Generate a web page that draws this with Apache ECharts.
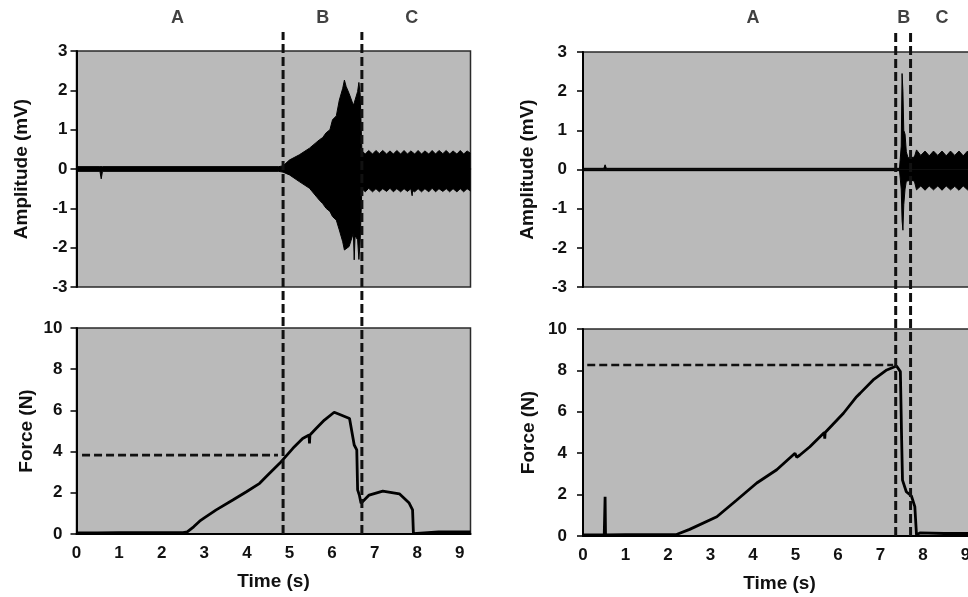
<!DOCTYPE html>
<html>
<head>
<meta charset="utf-8">
<script src="https://cdn.jsdelivr.net/npm/echarts/dist/echarts.min.js"></script>
<style>
html,body{margin:0;padding:0;background:#fff;}
#chart{width:968px;height:597px;}
</style>
</head>
<body>
<div id="chart"></div>
<script>
// ---------------- DATA ----------------
var ampTicks = [-3, -2, -1, 0, 1, 2, 3];
var forceTicks = [0, 2, 4, 6, 8, 10];
var timeTicks = [0, 1, 2, 3, 4, 5, 6, 7, 8, 9];
var regionNames = ['A', 'B', 'C'];

// Left panel: EMG amplitude envelope (mV)
var ampTimeL = [0, 0.55, 0.58, 0.61, 4.75, 4.85, 5.0, 5.23, 5.47, 5.70, 5.78, 5.86, 5.95, 6.01, 6.10, 6.17, 6.25, 6.29, 6.33, 6.40, 6.50, 6.52, 6.54, 6.60, 6.63, 6.66,
  6.70, 6.78, 6.86, 6.95, 7.03, 7.11, 7.19, 7.28, 7.36, 7.44, 7.52, 7.61, 7.69, 7.77, 7.85, 7.87, 7.88, 7.89, 7.94,
  8.02, 8.10, 8.18, 8.27, 8.35, 8.43, 8.51, 8.60, 8.68, 8.76, 8.84, 8.93, 9.01, 9.09, 9.17, 9.25];
var ampUpperL = [0.06, 0.06, 0.06, 0.06, 0.06, 0.08, 0.23, 0.36, 0.53, 0.74, 0.80, 0.92, 1.00, 1.25, 1.35, 1.75, 2.05, 2.26, 2.10, 1.92, 1.62, 1.68, 1.70, 1.97, 2.20, 1.90,
  0.46, 0.38, 0.47, 0.38, 0.47, 0.39, 0.47, 0.38, 0.46, 0.38, 0.47, 0.38, 0.47, 0.38, 0.46, 0.43, 0.41, 0.40, 0.38,
  0.47, 0.38, 0.46, 0.38, 0.47, 0.38, 0.47, 0.39, 0.47, 0.38, 0.46, 0.38, 0.47, 0.38, 0.46, 0.40];
var ampLowerL = [-0.06, -0.06, -0.25, -0.06, -0.06, -0.08, -0.15, -0.32, -0.49, -0.79, -0.88, -1.00, -1.08, -1.21, -1.30, -1.55, -1.85, -2.06, -2.02, -1.97, -1.63, -2.31, -1.70, -1.80, -2.30, -1.80,
  -0.50, -0.58, -0.49, -0.58, -0.50, -0.58, -0.50, -0.57, -0.49, -0.58, -0.50, -0.58, -0.50, -0.57, -0.50, -0.54, -0.68, -0.55, -0.58,
  -0.50, -0.58, -0.50, -0.58, -0.49, -0.58, -0.50, -0.57, -0.50, -0.58, -0.50, -0.58, -0.50, -0.58, -0.50, -0.56];

// Left panel: force (N)
var forceTimeL = [0, 0.5, 1, 1.5, 2, 2.5, 2.6, 2.75, 2.89, 3.0, 3.28, 3.67, 3.99, 4.30, 4.45, 4.77, 5.08, 5.31, 5.46, 5.47, 5.48, 5.63, 5.82, 6.05, 6.21, 6.41,
  6.52, 6.58, 6.60, 6.64, 6.68, 6.87, 7.19, 7.58, 7.81, 7.89, 7.91, 7.95, 8.5, 9.25];
var forceL = [0.05, 0.05, 0.06, 0.06, 0.06, 0.07, 0.10, 0.35, 0.62, 0.78, 1.17, 1.65, 2.05, 2.46, 2.78, 3.43, 4.16, 4.64, 4.81, 4.40, 4.81, 5.13, 5.53, 5.91, 5.78, 5.61,
  4.32, 4.08, 2.14, 1.89, 1.49, 1.89, 2.08, 1.95, 1.50, 1.17, 0.02, 0.10, 0.10, 0.10];

// Right panel: EMG amplitude envelope (mV)
var ampTimeR = [0, 0.49, 0.52, 0.55, 7.45, 7.49, 7.51, 7.53, 7.55, 7.58, 7.61, 7.65, 7.72, 7.80,
  7.85, 7.95, 8.05, 8.15, 8.25, 8.35, 8.45, 8.55, 8.65, 8.75, 8.85, 8.95, 9.05, 9.15, 9.25];
var ampUpperR = [0.03, 0.03, 0.12, 0.03, 0.03, 0.60, 2.45, 2.00, 1.00, 0.90, 0.45, 0.30, 0.30, 0.32,
  0.50, 0.36, 0.47, 0.35, 0.47, 0.36, 0.47, 0.35, 0.47, 0.36, 0.47, 0.35, 0.47, 0.36, 0.46];
var ampLowerR = [-0.03, -0.03, -0.03, -0.03, -0.03, -0.50, -1.30, -1.55, -0.90, -0.50, -0.30, -0.28, -0.27, -0.30,
  -0.52, -0.42, -0.53, -0.42, -0.52, -0.42, -0.53, -0.42, -0.52, -0.43, -0.53, -0.42, -0.52, -0.42, -0.52];

// Right panel: force (N)
var forceTimeR = [0, 0.5, 0.51, 0.52, 0.53, 1, 1.5, 2, 2.2, 2.51, 3.15, 3.62, 4.09, 4.56, 4.99, 5.03, 5.10, 5.34, 5.68, 5.69, 5.70,
  6.13, 6.44, 6.52, 6.83, 7.15, 7.38, 7.47, 7.50, 7.52, 7.61, 7.73, 7.81, 7.85, 7.93, 8.5, 9.25];
var forceR = [0.05, 0.05, 0.05, 1.90, 0.05, 0.06, 0.06, 0.06, 0.07, 0.32, 0.93, 1.74, 2.56, 3.20, 4.00, 3.80, 3.90, 4.31, 5.00, 4.70, 5.00,
  5.93, 6.73, 6.89, 7.54, 8.02, 8.21, 7.94, 4.64, 2.70, 2.14, 1.93, 1.42, 0.05, 0.15, 0.12, 0.12];

// Phase boundaries and reference levels
var boundsL = [4.85, 6.70];
var boundsR = [7.36, 7.71];
var labelXL = [2.37, 5.78, 7.87];
var labelXR = [4.00, 7.55, 8.45];
var refLineL = { x: [0.13, 4.73], force: 3.83 };
var refLineR = { x: [0.10, 7.30], force: 8.26 };

// ---------------- BUILD ----------------
function zip(a, b) { return a.map(function (v, i) { return [v, b[i]]; }); }

var FONT = '"Liberation Sans", Arial, Helvetica, sans-serif';
var TXT = '#111';
var BG = '#bababa';
var tMax = 9.25;

var panels = [
  { left: 76.5, width: 394, ampTop: 51, ampH: 236, fTop: 328, fH: 206, ovTop: 32, ovH: 502,
    ampT: ampTimeL, up: ampUpperL, lo: ampLowerL, fT: forceTimeL, f: forceL,
    bounds: boundsL, labX: labelXL, ref: refLineL, ampMargin: 9, fMargin: 14, ampGap: 45, fGap: 40 },
  { left: 583, width: 393, ampTop: 52, ampH: 235, fTop: 329, fH: 207, ovTop: 32, ovH: 504,
    ampT: ampTimeR, up: ampUpperR, lo: ampLowerR, fT: forceTimeR, f: forceR,
    bounds: boundsR, labX: labelXR, ref: refLineR, ampMargin: 16, fMargin: 16, ampGap: 46, fGap: 45 }
];

var grid = [], xAxis = [], yAxis = [], series = [];

panels.forEach(function (p, k) {
  var g0 = k * 3;
  var base = { left: p.left, width: p.width, outerBoundsMode: 'none', containLabel: false };
  grid.push(Object.assign({ top: p.ampTop, height: p.ampH, show: true, backgroundColor: BG, borderColor: '#2a2a2a', borderWidth: 1.5 }, base));
  grid.push(Object.assign({ top: p.fTop, height: p.fH, show: true, backgroundColor: BG, borderColor: '#2a2a2a', borderWidth: 1.5 }, base));
  grid.push(Object.assign({ top: p.ovTop, height: p.ovH, show: false }, base));

  // x axes
  xAxis.push({ gridIndex: g0, type: 'value', min: 0, max: tMax, interval: 1,
    axisLine: { show: true, lineStyle: { color: '#111', width: 1.5 } }, axisTick: { show: false }, axisLabel: { show: false }, splitLine: { show: false } });
  xAxis.push({ gridIndex: g0 + 1, type: 'value', min: timeTicks[0], max: tMax, interval: 1,
    name: 'Time (s)', nameLocation: 'middle', nameGap: 38,
    nameTextStyle: { fontFamily: FONT, fontWeight: 'bold', fontSize: 19, color: TXT },
    axisLine: { show: true, lineStyle: { color: '#000', width: 2 } }, axisTick: { show: false },
    axisLabel: { fontFamily: FONT, fontWeight: 'bold', fontSize: 17, color: TXT, margin: 11, showMaxLabel: false, hideOverlap: false,
      formatter: function (v) { return timeTicks.indexOf(v) >= 0 ? String(v) : ''; } },
    splitLine: { show: false } });
  xAxis.push({ gridIndex: g0 + 2, type: 'value', min: 0, max: tMax, show: false });

  // y axes
  yAxis.push({ gridIndex: g0, type: 'value', min: ampTicks[0], max: ampTicks[ampTicks.length - 1], interval: 1,
    name: 'Amplitude (mV)', nameLocation: 'middle', nameRotate: 90, nameGap: p.ampGap,
    nameTextStyle: { fontFamily: FONT, fontWeight: 'bold', fontSize: 19, color: TXT },
    axisLine: { show: true, lineStyle: { color: '#000', width: 2 } },
    axisTick: { show: true, length: 6, lineStyle: { color: '#000', width: 1.5 } },
    axisLabel: { fontFamily: FONT, fontWeight: 'bold', fontSize: 17, color: TXT, margin: p.ampMargin },
    splitLine: { show: false } });
  yAxis.push({ gridIndex: g0 + 1, type: 'value', min: forceTicks[0], max: forceTicks[forceTicks.length - 1], interval: 2,
    name: 'Force (N)', nameLocation: 'middle', nameRotate: 90, nameGap: p.fGap,
    nameTextStyle: { fontFamily: FONT, fontWeight: 'bold', fontSize: 19, color: TXT },
    axisLine: { show: true, lineStyle: { color: '#000', width: 2 } },
    axisTick: { show: true, length: 6, lineStyle: { color: '#000', width: 1.5 } },
    axisLabel: { fontFamily: FONT, fontWeight: 'bold', fontSize: 17, color: TXT, margin: p.fMargin },
    splitLine: { show: false } });
  yAxis.push({ gridIndex: g0 + 2, type: 'value', min: 0, max: 1, show: false });

  // amplitude envelope (filled band)
  [p.up, p.lo].forEach(function (vals) {
    series.push({ type: 'line', xAxisIndex: g0, yAxisIndex: g0, data: zip(p.ampT, vals), symbol: 'none',
      lineStyle: { color: '#000', width: 1 }, areaStyle: { origin: 0, color: '#000', opacity: 1 },
      silent: true, z: 3 });
  });

  // force
  series.push({ type: 'line', xAxisIndex: g0 + 1, yAxisIndex: g0 + 1, data: zip(p.fT, p.f), symbol: 'none',
    lineStyle: { color: '#000', width: 2.8 }, silent: true, z: 3 });

  // horizontal dashed reference
  series.push({ type: 'line', xAxisIndex: g0 + 1, yAxisIndex: g0 + 1,
    data: [[p.ref.x[0], p.ref.force], [p.ref.x[1], p.ref.force]], symbol: 'none',
    lineStyle: { color: '#111', width: 2.6, type: [8, 4] }, silent: true, z: 4 });

  // vertical dashed boundaries
  p.bounds.forEach(function (b) {
    series.push({ type: 'line', xAxisIndex: g0 + 2, yAxisIndex: g0 + 2, data: [[b, 0], [b, 1]], symbol: 'none',
      lineStyle: { color: '#111', width: 3, type: [9, 4] }, silent: true, z: 6 });
  });

  // region labels
  series.push({ type: 'scatter', xAxisIndex: g0 + 2, yAxisIndex: g0 + 2, symbolSize: 0, silent: true,
    data: p.labX.map(function (x, i) { return { value: [x, 1], name: regionNames[i] }; }),
    label: { show: true, position: 'top', distance: 5, formatter: '{b}', fontFamily: FONT, fontWeight: 'bold', fontSize: 18, color: TXT } });
});

var chart = echarts.init(document.getElementById('chart'), null, { renderer: 'canvas' });
chart.setOption({ animation: false, backgroundColor: '#fff', grid: grid, xAxis: xAxis, yAxis: yAxis, series: series });
</script>
</body>
</html>
